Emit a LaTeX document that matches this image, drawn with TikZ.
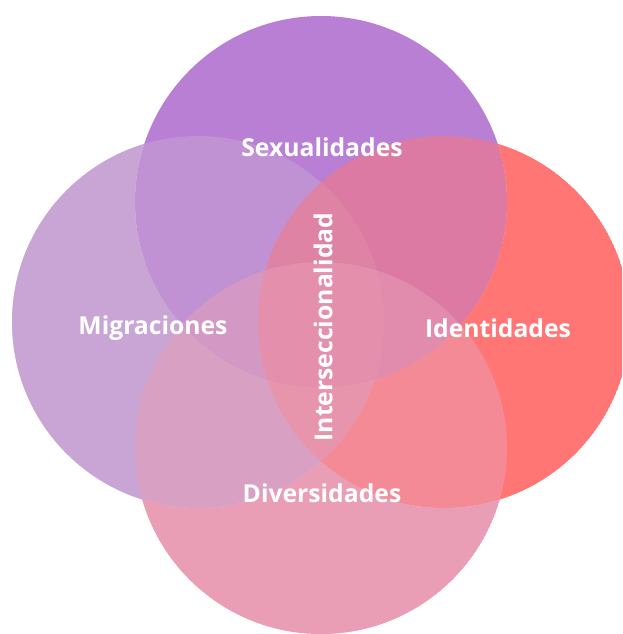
\documentclass[tikz,border=0pt]{standalone}
\usepackage{fontspec}
\setmainfont{Open Sans}
\usepackage{tikz}
\usetikzlibrary{positioning}
\definecolor{sexColor}{RGB}{185,127,212}
\definecolor{migColor}{RGB}{200,165,212}
\definecolor{idColor}{RGB}{255,118,117}
\definecolor{divColor}{RGB}{233,158,182}
\tikzstyle{blend} = [fill opacity = 0.5]
\tikzstyle{label} = [text = white,
			font = \bfseries\fontsize{24.7}{28}\selectfont]
\tikzstyle{outside} = [even odd rule]

\begin{document}
\begin{tikzpicture}[x = 1pt, y = 1pt, yscale = -1, radius = 186]
	\useasboundingbox (0,0) rectangle (622,634);
	\clip (0,0) rectangle (622,634);
	\coordinate (sexC) at (321,202);
	\coordinate (migC) at (198,322);
	\coordinate (idC) at (444,322);
	\coordinate (divC) at (321,448);
	% each set: half-half mix over the sets before it, full colour elsewhere
	\fill [sexColor] (sexC) circle;
	\fill [migColor, blend] (migC) circle;
	\begin{scope}[outside]
		\clip (migC) circle;
		\clip (-50,-50) rectangle (700,700) (sexC) circle;
		\fill [migColor] (migC) circle;
	\end{scope}
	\fill [idColor, blend] (idC) circle;
	\begin{scope}[outside]
		\clip (idC) circle;
		\clip (-50,-50) rectangle (700,700) (sexC) circle;
		\clip (-50,-50) rectangle (700,700) (migC) circle;
		\fill [idColor] (idC) circle;
	\end{scope}
	\fill [divColor, blend] (divC) circle;
	\begin{scope}[outside]
		\clip (divC) circle;
		\clip (-50,-50) rectangle (700,700) (sexC) circle;
		\clip (-50,-50) rectangle (700,700) (migC) circle;
		\clip (-50,-50) rectangle (700,700) (idC) circle;
		\fill [divColor] (divC) circle;
	\end{scope}
	\node [label] (sexText) at (322,147) {Sexualidades};
	\node [label] (migText) at (153,328) {Migraciones};
	\node [label] (idText) at (498,328) {Identidades};
	\node [label] (divText) at (322,493) {Diversidades};
	\node [label, rotate = 90] (inter) at (323,327) {Interseccionalidad};
\end{tikzpicture}
\end{document}
